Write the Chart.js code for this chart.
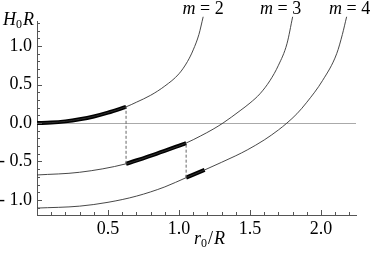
<!DOCTYPE html>
<html>
<head>
<meta charset="utf-8">
<script src="https://cdn.jsdelivr.net/npm/chart.js@4"></script>
<style>
  html, body { margin: 0; padding: 0; background: #fff; }
  #wrap { width: 373px; height: 260px; }
</style>
</head>
<body>
<div id="wrap"><canvas id="chart" width="373" height="260"></canvas></div>
<script>
// curve points (r0/R, H0 R)
const r2 = [0, 0.10, 0.20, 0.30, 0.40, 0.50, 0.627, 0.70, 0.80, 0.90, 1.00, 1.06, 1.10, 1.14, 1.17];
const h2 = [0, 0.005, 0.021, 0.048, 0.085, 0.135, 0.21, 0.27, 0.36, 0.48, 0.64, 0.80, 0.95, 1.15, 1.38];

const r3 = [0, 0.30, 0.627, 0.84, 1.05, 1.15, 1.24, 1.31, 1.43, 1.50, 1.57, 1.64, 1.70, 1.76, 1.80];
const h3 = [-0.675, -0.64, -0.53, -0.40, -0.26, -0.17, -0.08, 0, 0.16, 0.26, 0.38, 0.55, 0.75, 1.03, 1.38];

const r4 = [0, 0.30, 0.50, 0.70, 0.90, 1.05, 1.18, 1.30, 1.40, 1.48, 1.60, 1.70, 1.76, 1.83, 1.90, 2.01, 2.11, 2.15, 2.18];
const h4 = [-1.105, -1.08, -1.03, -0.95, -0.83, -0.71, -0.61, -0.51, -0.425, -0.35, -0.22, -0.09, 0, 0.12, 0.27, 0.55, 0.90, 1.15, 1.38];

const curveNames = ['m = 2', 'm = 3', 'm = 4'];
// thick stretches of each curve
const thickFrom = [0, 0.627, 1.05];
const thickTo = [0.627, 1.05, 1.18];
// dashed jumps: x position, lower curve, upper curve
const jumpX = [0.627, 1.05];
const jumpLow = [1, 2];
const jumpHigh = [0, 1];

const yTicks = [-1.0, -0.5, 0.0, 0.5, 1.0];
const xTicks = [0.5, 1.0, 1.5, 2.0];

const rs = [r2, r3, r4];
const hs = [h2, h3, h4];

function pts(r, h) {
    return r.map((x, i) => ({ x: x, y: h[i] }));
}
function valueAt(k, x) {
    const i = rs[k].indexOf(x);
    return hs[k][i];
}

const serif = '"Liberation Serif", serif';

const datasets = [];
// thin full curves
for (let k = 0; k < 3; k++) {
    datasets.push({
        label: curveNames[k],
        data: pts(rs[k], hs[k]),
        borderColor: '#333',
        borderWidth: 0.9,
        pointRadius: 0,
        cubicInterpolationMode: 'monotone',
        clip: false
    });
}
// dashed vertical jumps
for (let j = 0; j < jumpX.length; j++) {
    datasets.push({
        data: [{ x: jumpX[j], y: valueAt(jumpLow[j], jumpX[j]) }, { x: jumpX[j], y: valueAt(jumpHigh[j], jumpX[j]) }],
        borderColor: '#666',
        borderWidth: 1,
        borderDash: [3, 2],
        pointRadius: 0
    });
}
// thick stretches
for (let k = 0; k < 3; k++) {
    const d = pts(rs[k], hs[k]).filter(p => p.x >= thickFrom[k] && p.x <= thickTo[k]);
    datasets.push({
        data: d,
        borderColor: '#000',
        borderWidth: 4,
        borderCapStyle: 'butt',
        pointRadius: 0,
        cubicInterpolationMode: 'monotone'
    });
}

// inward tick marks, every 0.1
const tickMarks = {
    id: 'tickMarks',
    afterDraw(chart) {
        const ctx = chart.ctx;
        const a = chart.chartArea;
        const xs = chart.scales.x, ys = chart.scales.y;
        ctx.save();
        ctx.strokeStyle = '#555';
        ctx.lineWidth = 1;
        ctx.beginPath();
        for (let i = 1; i * 0.1 <= xs.max + 1e-9; i++) {
            const px = Math.round(xs.getPixelForValue(i * 0.1)) + 0.5;
            const len = i % 5 === 0 ? 5 : 3;
            ctx.moveTo(px, a.bottom);
            ctx.lineTo(px, a.bottom - len);
        }
        for (let i = Math.ceil(ys.min * 10); i * 0.1 <= ys.max + 1e-9; i++) {
            const py = Math.round(ys.getPixelForValue(i * 0.1)) + 0.5;
            const len = i % 5 === 0 ? 5 : 3;
            ctx.moveTo(a.left, py);
            ctx.lineTo(a.left + len, py);
        }
        ctx.stroke();
        ctx.restore();
    }
};

// axis titles and curve names
const labels = {
    id: 'labels',
    afterDraw(chart) {
        const ctx = chart.ctx;
        const xs = chart.scales.x;
        ctx.save();
        ctx.fillStyle = '#000';
        ctx.textBaseline = 'alphabetic';
        ctx.textAlign = 'left';

        // H0R
        ctx.font = 'italic 18px ' + serif;
        ctx.fillText('H', 3, 25);
        ctx.font = '12px ' + serif;
        ctx.fillText('0', 16, 28);
        ctx.font = 'italic 18px ' + serif;
        ctx.fillText('R', 23, 25);

        // r0/R
        ctx.font = 'italic 18px ' + serif;
        ctx.fillText('r', 194, 244);
        ctx.font = '12px ' + serif;
        ctx.fillText('0', 201, 247);
        ctx.font = '18px ' + serif;
        ctx.fillText('/', 208, 244);
        ctx.font = 'italic 18px ' + serif;
        ctx.fillText('R', 214, 244);

        // curve names above the ends of the curves
        const shift = [0, -12, 3];
        for (let k = 0; k < 3; k++) {
            const last = rs[k][rs[k].length - 1];
            const cx = xs.getPixelForValue(last) + shift[k];
            ctx.font = 'italic 18px ' + serif;
            const mw = ctx.measureText('m').width;
            ctx.font = '18px ' + serif;
            const rest = ' = ' + curveNames[k].split('= ')[1];
            const rw = ctx.measureText(rest).width;
            const x0 = cx - (mw + rw) / 2;
            ctx.font = 'italic 18px ' + serif;
            ctx.fillText('m', x0, 14);
            ctx.font = '18px ' + serif;
            ctx.fillText(rest, x0 + mw, 14);
        }
        ctx.restore();
    }
};

new Chart(document.getElementById('chart'), {
    type: 'line',
    data: { datasets: datasets },
    options: {
        responsive: false,
        animation: false,
        devicePixelRatio: 1,
        layout: { padding: { top: 21, right: 17, left: 0, bottom: 0 } },
        plugins: { legend: { display: false }, tooltip: { enabled: false } },
        scales: {
            x: {
                type: 'linear',
                min: 0,
                max: 2.246,
                afterFit(scale) { scale.height = 45; },
                afterBuildTicks(scale) { scale.ticks = xTicks.map(v => ({ value: v })); },
                ticks: {
                    font: { family: serif, size: 18 },
                    color: '#000',
                    padding: 3,
                    maxRotation: 0,
                    callback: v => v.toFixed(1)
                },
                grid: { display: true, color: 'transparent', drawTicks: false },
                border: { display: true, color: '#555', width: 1 }
            },
            y: {
                type: 'linear',
                min: -1.195,
                max: 1.325,
                afterFit(scale) { scale.width = 37; },
                afterBuildTicks(scale) { scale.ticks = yTicks.map(v => ({ value: v })); },
                ticks: {
                    font: { family: serif, size: 18 },
                    color: '#000',
                    padding: 5,
                    callback: v => (v < 0 ? '- ' : '') + Math.abs(v).toFixed(1)
                },
                grid: {
                    display: true,
                    drawTicks: false,
                    color: c => (c.tick && c.tick.value === 0 ? '#aaa' : 'transparent'),
                    lineWidth: 1
                },
                border: { display: true, color: '#555', width: 1 }
            }
        }
    },
    plugins: [tickMarks, labels]
});
</script>
</body>
</html>
